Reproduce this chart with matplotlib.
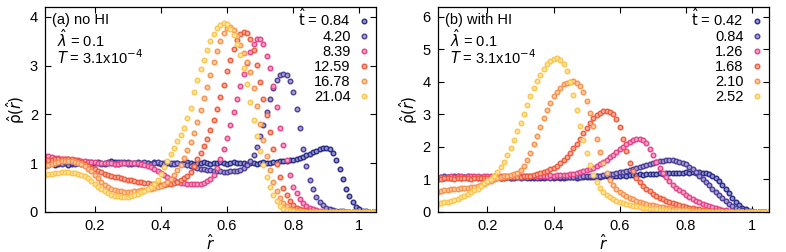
import numpy as np
import matplotlib
matplotlib.use("Agg")
import matplotlib.pyplot as plt
from matplotlib.colors import to_rgb

plt.rcParams['font.family'] = ['Liberation Sans', 'DejaVu Sans']
plt.rcParams['mathtext.fontset'] = 'dejavusans'
plt.rcParams['font.size'] = 10

# radial grid (bin centres) shared by every curve
r = np.round(np.arange(0.05, 1.0501, 0.01), 2)

# ---- panel (a): no HI ----
times_a = ["0.84", "4.20", "8.39", "12.59", "16.78", "21.04"]
rho_a_084 = [
    0.95, 0.97, 1.00, 0.96, 0.98, 1.02, 1.00, 0.97, 0.99, 1.03,
    1.01, 0.98, 1.00, 1.02, 0.99, 1.01, 1.03, 1.00, 0.98, 1.01,
    1.04, 1.02, 0.99, 1.01, 1.03, 1.02, 0.99, 1.00, 1.02, 0.98,
    1.00, 1.01, 0.99, 1.02, 1.00, 0.98, 1.01, 1.00, 0.99, 1.01,
    1.00, 0.99, 1.01, 1.02, 1.00, 0.99, 1.01, 1.00, 1.02, 1.01,
    0.99, 1.00, 1.01, 1.02, 1.00, 0.99, 1.01, 1.02, 1.00, 1.01,
    1.00, 0.98, 1.00, 1.01, 0.99, 1.00, 1.02, 1.01, 1.00, 1.02,
    1.03, 1.04, 1.05, 1.05, 1.06, 1.07, 1.09, 1.11, 1.13, 1.16,
    1.19, 1.22, 1.25, 1.28, 1.31, 1.32, 1.30, 1.20, 1.06, 0.88,
    0.68, 0.48, 0.32, 0.20, 0.10, 0.05, 0.02, 0.01, 0.00, 0.00,
    0.00]
rho_a_420 = [
    1.02, 0.99, 1.01, 1.03, 1.00, 0.98, 1.02, 1.04, 1.01, 0.99,
    1.00, 1.03, 1.01, 0.99, 1.02, 1.00, 1.01, 0.98, 1.00, 1.02,
    1.01, 0.99, 1.02, 1.03, 1.00, 0.99, 1.01, 1.00, 0.98, 1.00,
    1.02, 1.01, 0.99, 1.00, 1.02, 1.01, 0.99, 1.00, 1.01, 0.99,
    1.00, 0.99, 0.98, 0.97, 0.95, 0.93, 0.91, 0.89, 0.87, 0.86,
    0.85, 0.84, 0.83, 0.83, 0.82, 0.82, 0.83, 0.83, 0.84, 0.86,
    0.90, 0.96, 1.04, 1.17, 1.33, 1.55, 1.78, 2.04, 2.32, 2.54,
    2.70, 2.80, 2.83, 2.80, 2.68, 2.45, 2.12, 1.72, 1.30, 0.95,
    0.66, 0.46, 0.31, 0.21, 0.14, 0.09, 0.06, 0.04, 0.02, 0.01,
    0.01, 0.00, 0.00, 0.00, 0.00, 0.00, 0.00, 0.00, 0.00, 0.00,
    0.00]
rho_a_839 = [
    1.15, 1.14, 1.12, 1.11, 1.10, 1.09, 1.09, 1.08, 1.07, 1.07,
    1.06, 1.05, 1.04, 1.03, 1.02, 1.02, 1.01, 1.01, 1.00, 1.00,
    1.00, 0.99, 0.99, 1.00, 1.00, 1.01, 1.01, 1.00, 1.00, 0.99,
    0.97, 0.95, 0.92, 0.88, 0.84, 0.80, 0.76, 0.72, 0.68, 0.65,
    0.62, 0.60, 0.59, 0.58, 0.58, 0.57, 0.57, 0.58, 0.60, 0.63,
    0.67, 0.76, 0.90, 1.08, 1.30, 1.52, 1.78, 2.05, 2.32, 2.58,
    2.82, 3.06, 3.28, 3.45, 3.54, 3.55, 3.45, 3.20, 2.95, 2.58,
    2.15, 1.72, 1.38, 1.06, 0.76, 0.52, 0.38, 0.27, 0.18, 0.12,
    0.08, 0.05, 0.03, 0.02, 0.01, 0.00, 0.00, 0.00, 0.00, 0.00,
    0.00, 0.00, 0.00, 0.00, 0.00, 0.00, 0.00, 0.00, 0.00, 0.00,
    0.00]
rho_a_1259 = [
    1.05, 1.06, 1.07, 1.08, 1.08, 1.09, 1.09, 1.08, 1.08, 1.07,
    1.05, 1.02, 0.99, 0.95, 0.91, 0.87, 0.84, 0.81, 0.78, 0.76,
    0.74, 0.72, 0.71, 0.69, 0.68, 0.66, 0.65, 0.64, 0.62, 0.61,
    0.60, 0.59, 0.58, 0.57, 0.57, 0.56, 0.56, 0.57, 0.58, 0.60,
    0.62, 0.65, 0.69, 0.74, 0.82, 0.95, 1.08, 1.20, 1.35, 1.50,
    1.68, 1.88, 2.10, 2.35, 2.60, 2.88, 3.12, 3.35, 3.53, 3.65,
    3.69, 3.66, 3.55, 3.32, 3.02, 2.66, 2.32, 1.98, 1.64, 1.28,
    0.98, 0.72, 0.50, 0.34, 0.22, 0.14, 0.09, 0.06, 0.04, 0.02,
    0.01, 0.00, 0.00, 0.00, 0.00, 0.00, 0.00, 0.00, 0.00, 0.00,
    0.00, 0.00, 0.00, 0.00, 0.00, 0.00, 0.00, 0.00, 0.00, 0.00,
    0.00]
rho_a_1678 = [
    0.95, 0.97, 0.99, 1.01, 1.03, 1.04, 1.05, 1.05, 1.04, 1.03,
    1.01, 0.98, 0.94, 0.89, 0.83, 0.76, 0.69, 0.62, 0.56, 0.51,
    0.48, 0.45, 0.43, 0.42, 0.41, 0.41, 0.41, 0.42, 0.43, 0.44,
    0.45, 0.47, 0.48, 0.50, 0.52, 0.54, 0.57, 0.61, 0.67, 0.75,
    0.85, 0.96, 1.10, 1.26, 1.44, 1.62, 1.85, 2.08, 2.33, 2.57,
    2.80, 3.07, 3.29, 3.50, 3.67, 3.78, 3.79, 3.73, 3.60, 3.43,
    3.25, 3.07, 2.87, 2.54, 2.18, 1.80, 1.47, 1.15, 0.86, 0.62,
    0.43, 0.29, 0.19, 0.12, 0.07, 0.04, 0.02, 0.01, 0.00, 0.00,
    0.00, 0.00, 0.00, 0.00, 0.00, 0.00, 0.00, 0.00, 0.00, 0.00,
    0.00, 0.00, 0.00, 0.00, 0.00, 0.00, 0.00, 0.00, 0.00, 0.00,
    0.00]
rho_a_2104 = [
    0.75, 0.77, 0.78, 0.79, 0.80, 0.81, 0.81, 0.81, 0.80, 0.80,
    0.78, 0.76, 0.73, 0.69, 0.64, 0.58, 0.52, 0.47, 0.42, 0.38,
    0.35, 0.33, 0.32, 0.31, 0.31, 0.31, 0.32, 0.34, 0.37, 0.40,
    0.43, 0.47, 0.51, 0.57, 0.66, 0.78, 0.92, 1.05, 1.18, 1.32,
    1.45, 1.58, 1.72, 1.92, 2.14, 2.45, 2.70, 2.93, 3.12, 3.32,
    3.50, 3.64, 3.77, 3.84, 3.87, 3.86, 3.76, 3.62, 3.45, 3.22,
    2.95, 2.62, 2.25, 1.88, 1.55, 1.24, 0.97, 0.72, 0.52, 0.35,
    0.22, 0.13, 0.07, 0.04, 0.02, 0.01, 0.00, 0.00, 0.00, 0.00,
    0.00, 0.00, 0.00, 0.00, 0.00, 0.00, 0.00, 0.00, 0.00, 0.00,
    0.00, 0.00, 0.00, 0.00, 0.00, 0.00, 0.00, 0.00, 0.00, 0.00,
    0.00]

# ---- panel (b): with HI ----
times_b = ["0.42", "0.84", "1.26", "1.68", "2.10", "2.52"]
rho_b_042 = [
    1.02, 1.05, 1.03, 1.06, 1.04, 1.05, 1.07, 1.04, 1.06, 1.05,
    1.04, 1.06, 1.05, 1.03, 1.05, 1.06, 1.04, 1.05, 1.07, 1.05,
    1.04, 1.06, 1.05, 1.04, 1.06, 1.05, 1.07, 1.06, 1.05, 1.04,
    1.06, 1.05, 1.04, 1.06, 1.07, 1.05, 1.06, 1.04, 1.05, 1.06,
    1.07, 1.06, 1.05, 1.07, 1.08, 1.06, 1.07, 1.08, 1.09, 1.08,
    1.09, 1.10, 1.09, 1.11, 1.12, 1.11, 1.13, 1.12, 1.14, 1.15,
    1.14, 1.16, 1.15, 1.17, 1.16, 1.18, 1.17, 1.19, 1.18, 1.20,
    1.19, 1.20, 1.21, 1.20, 1.21, 1.22, 1.21, 1.22, 1.21, 1.22,
    1.21, 1.19, 1.16, 1.11, 1.04, 0.95, 0.84, 0.71, 0.57, 0.43,
    0.31, 0.21, 0.13, 0.08, 0.04, 0.02, 0.01, 0.00, 0.00, 0.00,
    0.00]
rho_b_084 = [
    1.05, 1.07, 1.10, 1.08, 1.06, 1.09, 1.11, 1.08, 1.07, 1.09,
    1.08, 1.06, 1.08, 1.07, 1.05, 1.06, 1.08, 1.07, 1.06, 1.05,
    1.06, 1.07, 1.05, 1.06, 1.08, 1.07, 1.06, 1.05, 1.07, 1.06,
    1.05, 1.06, 1.07, 1.06, 1.05, 1.07, 1.08, 1.06, 1.07, 1.08,
    1.07, 1.08, 1.09, 1.08, 1.10, 1.09, 1.10, 1.11, 1.12, 1.12,
    1.13, 1.15, 1.16, 1.18, 1.20, 1.22, 1.24, 1.27, 1.30, 1.33,
    1.36, 1.39, 1.42, 1.45, 1.48, 1.51, 1.54, 1.56, 1.58, 1.59,
    1.60, 1.60, 1.58, 1.55, 1.51, 1.46, 1.39, 1.31, 1.22, 1.12,
    1.02, 0.92, 0.82, 0.72, 0.62, 0.52, 0.42, 0.33, 0.25, 0.18,
    0.12, 0.08, 0.05, 0.03, 0.01, 0.00, 0.00, 0.00, 0.00, 0.00,
    0.00]
rho_b_126 = [
    1.03, 1.06, 1.05, 1.08, 1.10, 1.07, 1.09, 1.11, 1.08, 1.10,
    1.09, 1.11, 1.10, 1.08, 1.10, 1.11, 1.09, 1.10, 1.12, 1.10,
    1.09, 1.11, 1.10, 1.12, 1.11, 1.10, 1.12, 1.11, 1.10, 1.12,
    1.11, 1.12, 1.11, 1.12, 1.13, 1.12, 1.13, 1.14, 1.14, 1.15,
    1.16, 1.18, 1.20, 1.22, 1.25, 1.28, 1.32, 1.36, 1.41, 1.47,
    1.53, 1.60, 1.68, 1.76, 1.85, 1.93, 2.01, 2.08, 2.15, 2.20,
    2.24, 2.25, 2.22, 2.12, 1.95, 1.75, 1.55, 1.36, 1.20, 1.06,
    0.94, 0.84, 0.75, 0.67, 0.60, 0.53, 0.47, 0.41, 0.35, 0.30,
    0.25, 0.21, 0.17, 0.14, 0.11, 0.08, 0.06, 0.05, 0.03, 0.02,
    0.01, 0.00, 0.00, 0.00, 0.00, 0.00, 0.00, 0.00, 0.00, 0.00,
    0.00]
rho_b_168 = [
    1.02, 1.00, 1.03, 1.05, 1.04, 1.02, 1.03, 1.05, 1.04, 1.03,
    1.02, 1.03, 1.04, 1.05, 1.04, 1.03, 1.02, 1.02, 1.03, 1.04,
    1.05, 1.06, 1.06, 1.07, 1.07, 1.08, 1.09, 1.10, 1.12, 1.14,
    1.17, 1.20, 1.23, 1.27, 1.31, 1.36, 1.42, 1.50, 1.60, 1.70,
    1.82, 1.96, 2.10, 2.25, 2.42, 2.58, 2.74, 2.88, 2.98, 3.05,
    3.09, 3.10, 3.08, 3.00, 2.85, 2.62, 2.25, 1.88, 1.52, 1.25,
    1.05, 0.92, 0.81, 0.71, 0.63, 0.56, 0.50, 0.44, 0.39, 0.34,
    0.30, 0.26, 0.23, 0.20, 0.17, 0.15, 0.13, 0.11, 0.09, 0.08,
    0.06, 0.05, 0.04, 0.03, 0.02, 0.02, 0.01, 0.01, 0.00, 0.00,
    0.00, 0.00, 0.00, 0.00, 0.00, 0.00, 0.00, 0.00, 0.00, 0.00,
    0.00]
rho_b_210 = [
    0.62, 0.64, 0.66, 0.68, 0.70, 0.71, 0.72, 0.73, 0.74, 0.75,
    0.76, 0.77, 0.79, 0.82, 0.86, 0.91, 0.96, 1.00, 1.04, 1.08,
    1.10, 1.12, 1.14, 1.16, 1.20, 1.28, 1.40, 1.60, 1.82, 2.08,
    2.35, 2.62, 2.88, 3.12, 3.35, 3.55, 3.70, 3.82, 3.92, 3.98,
    4.01, 4.02, 3.98, 3.88, 3.68, 3.40, 3.05, 2.65, 2.25, 1.85,
    1.50, 1.20, 0.98, 0.82, 0.70, 0.62, 0.55, 0.49, 0.44, 0.39,
    0.35, 0.31, 0.28, 0.25, 0.22, 0.20, 0.18, 0.16, 0.14, 0.13,
    0.11, 0.10, 0.09, 0.08, 0.07, 0.06, 0.05, 0.04, 0.03, 0.03,
    0.02, 0.02, 0.01, 0.01, 0.00, 0.00, 0.00, 0.00, 0.00, 0.00,
    0.00, 0.00, 0.00, 0.00, 0.00, 0.00, 0.00, 0.00, 0.00, 0.00,
    0.00]
rho_b_252 = [
    0.25, 0.27, 0.30, 0.32, 0.35, 0.38, 0.41, 0.45, 0.50, 0.55,
    0.60, 0.66, 0.72, 0.80, 0.88, 0.95, 1.02, 1.10, 1.22, 1.38,
    1.55, 1.75, 1.98, 2.22, 2.48, 2.75, 3.00, 3.28, 3.55, 3.80,
    4.02, 4.22, 4.40, 4.55, 4.65, 4.70, 4.72, 4.68, 4.55, 4.32,
    4.00, 3.60, 3.12, 2.65, 2.20, 1.80, 1.45, 1.15, 0.92, 0.75,
    0.62, 0.52, 0.45, 0.39, 0.34, 0.30, 0.27, 0.24, 0.21, 0.19,
    0.17, 0.15, 0.13, 0.12, 0.10, 0.09, 0.08, 0.07, 0.06, 0.05,
    0.04, 0.04, 0.03, 0.03, 0.02, 0.02, 0.01, 0.01, 0.00, 0.00,
    0.00, 0.00, 0.00, 0.00, 0.00, 0.00, 0.00, 0.00, 0.00, 0.00,
    0.00, 0.00, 0.00, 0.00, 0.00, 0.00, 0.00, 0.00, 0.00, 0.00,
    0.00]

colors = ['#282a8e', '#4d3d9a', '#e6428a', '#ee5b3b', '#f6934c', '#fbc64a']

panels = [
    ("(a) no HI", times_a, [rho_a_084, rho_a_420, rho_a_839, rho_a_1259, rho_a_1678, rho_a_2104], 4.2, range(0, 5)),
    ("(b) with HI", times_b, [rho_b_042, rho_b_084, rho_b_126, rho_b_168, rho_b_210, rho_b_252], 6.3, range(0, 7)),
]


def lighten(c, f):
    c = np.array(to_rgb(c))
    return tuple(c + (1 - c) * f)


fs = 10.5
fig = plt.figure(figsize=(7.86, 2.52), dpi=100)
lefts = [0.0573, 0.557]
for (title, times, series, ytop, yt), left in zip(panels, lefts):
    ax = fig.add_axes([left, 0.159, 0.421, 0.813])
    for rho, c in zip(series, colors):
        ax.plot(r, rho, 'o', ls='none', ms=3.3, mew=1.0, mec=c, mfc=lighten(c, 0.5))

    ax.set_xlim(0.05, 1.05)
    ax.set_ylim(0, ytop)
    ax.set_xticks([0.2, 0.4, 0.6, 0.8, 1.0])
    ax.set_xticklabels(["0.2", "0.4", "0.6", "0.8", "1"])
    ax.set_yticks(list(yt))
    ax.tick_params(direction='in', top=True, right=True, length=4, width=0.8,
                   labelsize=fs, pad=5)
    for s in ax.spines.values():
        s.set_linewidth(0.9)
    ax.set_xlabel(r'$\hat{r}$', fontsize=11, labelpad=0)
    ax.set_ylabel(r'$\hat{\mathrm{\rho}}(\hat{r})$', fontsize=11, labelpad=2)

    # baseline-anchored so the hats do not push lines around
    ax.text(0.021, 0.915, title, transform=ax.transAxes, fontsize=fs, va='baseline', ha='left')
    ax.text(0.036, 0.803, r'$\hat{\lambda}$ = 0.1', transform=ax.transAxes, fontsize=fs, va='baseline')
    ax.text(0.036, 0.722, r'$T$ = 3.1x10$^{-4}$', transform=ax.transAxes, fontsize=fs, va='baseline')

    # key: right-aligned labels with the symbol to their right
    for i, (t, c) in enumerate(zip(times, colors)):
        y = 0.933 - 0.0735 * i
        lab = r'$\hat{\mathrm{t}}$ = ' + t if i == 0 else t
        ax.text(0.924, y - 0.026, lab, transform=ax.transAxes, fontsize=fs,
                va='baseline', ha='right')
        ax.plot([0.964], [y], 'o', transform=ax.transAxes, clip_on=False,
                ms=3.3, mew=1.0, mec=c, mfc=lighten(c, 0.5))

fig.savefig("out.png", dpi=100)
